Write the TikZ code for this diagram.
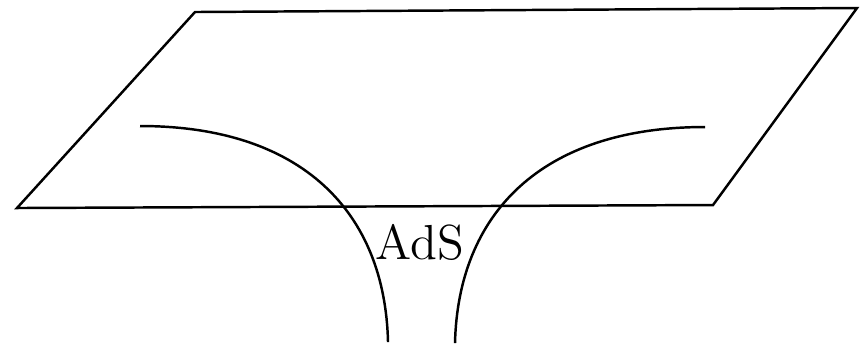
\documentclass[tikz,border=0pt]{standalone}
\usepackage{tikz}

\begin{document}
\begin{tikzpicture}[
  x=0.01cm, y=-0.01cm,
  edge/.style={line width=0.7pt, line join=miter},
  throat/.style={line width=0.7pt},
  lbl/.style={font=\fontsize{14}{17}\selectfont, inner sep=0pt},
]
\useasboundingbox (0,0) rectangle (862,350);

% ---- Boundary plane ----
\coordinate (tl) at (195,12);
\coordinate (tr) at (857,8);
\coordinate (br) at (713,205);
\coordinate (bl) at (17,208);
\draw[edge] (tl) -- (tr) -- (br) -- (bl) -- cycle;

% ---- Throat ----
\coordinate (l0) at (140,126);
\coordinate (l1) at (388,342);
\coordinate (r0) at (705,127);
\coordinate (r1) at (455,343);
\draw[throat] (l0) .. controls (302,126) and (385,212) .. (l1);
\draw[throat] (r0) .. controls (540,127) and (458,215) .. (r1);

% ---- Label ----
\node[lbl] (ads) at (420,242) {AdS};

\end{tikzpicture}
\end{document}
